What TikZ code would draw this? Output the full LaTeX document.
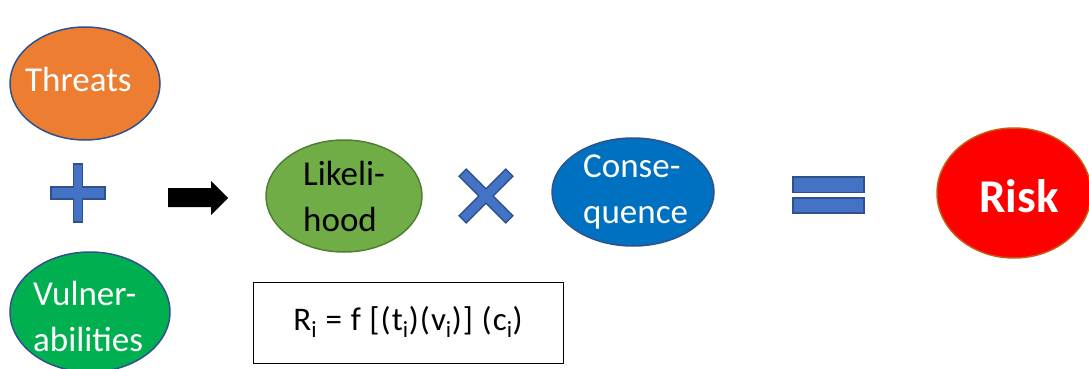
\documentclass[tikz,border=0pt]{standalone}
\usepackage{fontspec}
\setmainfont{Carlito}
\newfontfamily\formulafont[LetterSpace=3.5]{Carlito}
\usetikzlibrary{shapes.geometric}
\definecolor{threatorange}{HTML}{ED7D31}
\definecolor{vulngreen}{HTML}{00B050}
\definecolor{likegreen}{HTML}{70AD47}
\definecolor{likeedge}{HTML}{507E32}
\definecolor{consblue}{HTML}{0070C0}
\definecolor{edgeblue}{HTML}{2F528F}
\definecolor{opblue}{HTML}{4472C4}
\definecolor{riskedge}{HTML}{C55A11}
\tikzset{
  blob/.style={ellipse, draw=edgeblue, line width=1.5pt, inner sep=0pt},
  word/.style={font=\fontsize{35}{46}\selectfont, align=left, inner sep=0pt},
  opsign/.style={fill=opblue, draw=edgeblue, line width=1.5pt},
}
\newcommand{\sub}[1]{\textsubscript{#1}}
\begin{document}
\begin{tikzpicture}[x=1pt,y=-1pt]
\useasboundingbox (0,0) rectangle (1089,369);

% ellipses
\node[blob, fill=threatorange, minimum width=150pt, minimum height=113pt] (threats) at (85,83.5) {};
\node[blob, fill=vulngreen, minimum width=160pt, minimum height=120pt] (vuln) at (90,312) {};
\node[blob, fill=likegreen, draw=likeedge, minimum width=156pt, minimum height=112pt] (like) at (344,196) {};
\node[blob, fill=consblue, minimum width=162pt, minimum height=108pt] (cons) at (633,192) {};
\node[blob, fill=red, draw=riskedge, minimum width=154pt, minimum height=130pt] (risk) at (1014,193) {};

% labels (base anchor sits on the last line)
\node[word, text=white, anchor=base west] (threatsT) at (25,92) {Threats};
\node[word, text=white, anchor=base west] (vulnT) at (33,351) {Vulner-\\abilities};
\node[word, text=black, anchor=base west] (likeT) at (303,231) {Likeli-\\hood};
\node[word, text=white, anchor=base west] (consT) at (583,223) {Conse-\\quence};
\node[font=\fontsize{47}{50}\selectfont\bfseries, text=white, anchor=base, inner sep=0pt] (riskT) at (1019,212) {Risk};

% plus sign
\begin{scope}[shift={(78,193)}]
  \path[opsign] (-4.5,-29) -- (4.5,-29) -- (4.5,-6) -- (27,-6) -- (27,6) -- (4.5,6)
    -- (4.5,29) -- (-4.5,29) -- (-4.5,6) -- (-27,6) -- (-27,-6) -- (-4.5,-6) -- cycle;
\end{scope}

% arrow
\path[fill=black] (168,188) -- (211,188) -- (211,181) -- (228,198) -- (211,215)
  -- (211,207) -- (168,207) -- cycle;

% times sign
\begin{scope}[shift={(486,196)}, rotate=45]
  \path[opsign] (-5,-33) -- (5,-33) -- (5,-5) -- (33,-5) -- (33,5) -- (5,5)
    -- (5,33) -- (-5,33) -- (-5,5) -- (-33,5) -- (-33,-5) -- (-5,-5) -- cycle;
\end{scope}

% equals sign
\path[opsign] (793,177) rectangle (864,192.5);
\path[opsign] (793,198) rectangle (864,213);

% formula box
\node[draw=black, line width=1pt, minimum width=310pt, minimum height=81pt] (box) at (408,322.5) {};
\node[font=\formulafont\fontsize{33}{38}\selectfont, anchor=base, inner sep=0pt] (formula) at (408,330)
  {R\sub{i} = f [(t\sub{i})(v\sub{i})] (c\sub{i})};
\end{tikzpicture}
\end{document}
